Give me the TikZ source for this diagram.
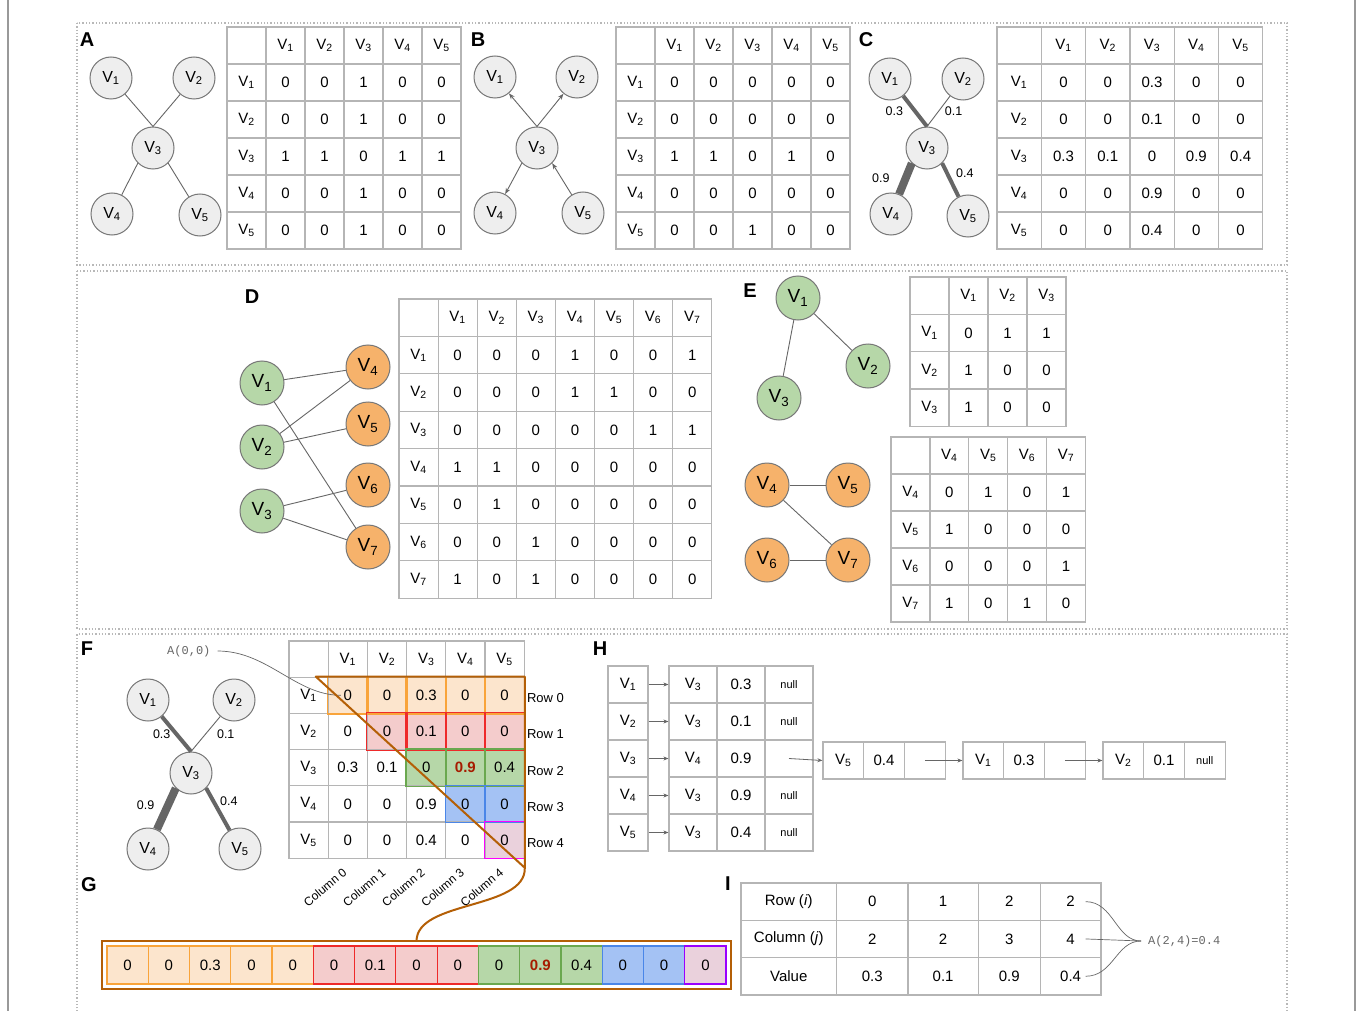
\documentclass[tikz,border=0pt]{standalone}
\usepackage{fontspec}
\setmainfont{Liberation Sans}
\setmonofont{Liberation Mono}
\usetikzlibrary{arrows.meta,calc,backgrounds}

\definecolor{ngray}{HTML}{EEEEEE}
\definecolor{nline}{HTML}{777777}
\definecolor{eline}{HTML}{666666}
\definecolor{tline}{HTML}{B5B5B5}
\definecolor{frm}{HTML}{B8B8B8}
\definecolor{ngreen}{HTML}{B6D7A8}
\definecolor{norange}{HTML}{F6B26B}
\definecolor{brwn}{HTML}{B45F06}
\definecolor{dred}{HTML}{A61C00}
\definecolor{orfill}{HTML}{FCE5CD}
\definecolor{ordraw}{HTML}{F9A43A}
\definecolor{rdfill}{HTML}{F4CCCC}
\definecolor{rddraw}{HTML}{EE2A2A}
\definecolor{gnfill}{HTML}{B6D7A8}
\definecolor{gndraw}{HTML}{6AA84F}
\definecolor{blfill}{HTML}{A4C2F4}
\definecolor{bldraw}{HTML}{4A86E8}
\definecolor{pufill}{HTML}{EAD1DC}
\definecolor{pudraw}{HTML}{FF00FF}
\definecolor{vidraw}{HTML}{9900FF}

\newcommand{\vs}[1]{V\textsubscript{#1}}
\newcommand{\nul}{{\fontsize{11}{11}\selectfont null}}
\newcommand{\hot}[1]{\textcolor{dred}{\bfseries #1}}

% table of cells: name, x0, y0, cell width, cell height, rows
\newcommand{\mtab}[6]{%
  \foreach \rowlist [count=\i from 0] in {#6} {
    \foreach \val [count=\j from 0] in \rowlist {
      \node[cell, minimum width=#4, minimum height=#5] (#1-\i-\j)
        at ({#2+(\j+0.5)*#4}, {#3+(\i+0.5)*#5}) {\val};
    }
  }
}

\begin{document}
\begin{tikzpicture}[x=1pt,y=1pt,yscale=-1,
  gnode/.style={circle,draw=nline,fill=ngray,line width=1,minimum size=42,inner sep=0,font=\fontsize{16}{16}\selectfont},
  grnode/.style={gnode,fill=ngreen,minimum size=44,font=\fontsize{19}{19}\selectfont},
  ornode/.style={grnode,fill=norange},
  link/.style={draw=eline,line width=0.9},
  arr/.style={link,-{Stealth[length=6,width=4.5]}},
  harr/.style={draw=eline,line width=0.8,-{Stealth[length=5,width=4]}},
  wt/.style={font=\fontsize{12.5}{12.5}\selectfont,inner sep=1},
  cell/.style={draw=tline,line width=1.2,inner sep=0,font=\fontsize{15}{15}\selectfont},
  acell/.style={draw,line width=1.2,inner sep=0,minimum width=41.27,minimum height=38,font=\fontsize{15}{15}\selectfont},
  plabel/.style={font=\fontsize{20}{20}\selectfont\bfseries,inner sep=0},
  frame/.style={draw=frm,dotted,line width=1.3},
  sideline/.style={draw=gray!80,line width=2},
  brline/.style={draw=brwn,line width=2},
  thin/.style={draw=eline,line width=0.7},
  mono/.style={font=\fontsize{12}{12}\ttfamily,text=eline,inner sep=1},
  rowlab/.style={font=\fontsize{13}{13}\selectfont,inner sep=0},
  hlor/.style={fill=orfill,draw=ordraw,line width=1.2},
  hlred/.style={fill=rdfill,draw=rddraw,line width=1.2},
  hlgr/.style={fill=gnfill,draw=gndraw,line width=1.2},
  hlbl/.style={fill=blfill,draw=bldraw,line width=1.2},
  hlpu/.style={fill=pufill,draw=pudraw,line width=1.2},
  gpu/.style={fill=pufill,draw=vidraw,line width=1.2}]

\begin{pgfonlayer}{background}
\fill[white] (0,0) rectangle (1357,1011);
\end{pgfonlayer}
\useasboundingbox (0,0) rectangle (1357,1011);

% frames
\draw[sideline] (8,0) -- (8,1011);
\draw[sideline] (1355,0) -- (1355,1011);
\draw[frame] (77,23) rectangle (1287,265);
\draw[frame] (77,271) rectangle (1287,629);
\draw[frame] (77,1015) -- (77,634) -- (1287,634) -- (1287,1015);

% A: undirected graph
\node[plabel] (lA) at (87,40) {A};
\node[gnode] (a1) at (111,78) {\vs1};
\node[gnode] (a2) at (194,78) {\vs2};
\node[gnode] (a3) at (153,148) {\vs3};
\node[gnode] (a4) at (112,214) {\vs4};
\node[gnode] (a5) at (200,215) {\vs5};
\draw[link] (a1) -- (a3.north);
\draw[link] (a2) -- (a3.north);
\draw[link] (a3.south west) -- (a4);
\draw[link] (a3.south east) -- (a5);
\mtab{ta}{227}{27}{39}{37}{{{},\vs1,\vs2,\vs3,\vs4,\vs5},{\vs1,0,0,1,0,0},{\vs2,0,0,1,0,0},{\vs3,1,1,0,1,1},{\vs4,0,0,1,0,0},{\vs5,0,0,1,0,0}}

% B: directed graph
\node[plabel] (lB) at (478,40) {B};
\node[gnode] (b1) at (495,77) {\vs1};
\node[gnode] (b2) at (577,77) {\vs2};
\node[gnode] (b3) at (537,148) {\vs3};
\node[gnode] (b4) at (495,213) {\vs4};
\node[gnode] (b5) at (583,213) {\vs5};
\draw[arr] (b3.north) -- (b1);
\draw[arr] (b3.north) -- (b2);
\draw[arr] (b3.south west) -- (b4);
\draw[arr] (b5) -- (b3.south east);
\mtab{tb}{616}{27}{39}{37}{{{},\vs1,\vs2,\vs3,\vs4,\vs5},{\vs1,0,0,0,0,0},{\vs2,0,0,0,0,0},{\vs3,1,1,0,1,0},{\vs4,0,0,0,0,0},{\vs5,0,0,1,0,0}}

% C: weighted graph
\node[plabel] (lC) at (866,40) {C};
\node[gnode] (c1) at (890,79) {\vs1};
\node[gnode] (c2) at (963,79) {\vs2};
\node[gnode] (c3) at (927,148) {\vs3};
\node[gnode] (c4) at (891,214) {\vs4};
\node[gnode] (c5) at (968,216) {\vs5};
\draw[link,line width=4] (c1) -- node[wt,left=9] {0.3} (c3.north);
\draw[link] (c2) -- node[wt,right=5] {0.1} (c3.north);
\draw[link,line width=8] (c3.south west) -- node[wt,left=11] {0.9} (c4);
\draw[link,line width=4] (c3.south east) -- node[wt,pos=0.3,right=6] {0.4} (c5);
\mtab{tc}{997}{27}{44.3}{37}{{{},\vs1,\vs2,\vs3,\vs4,\vs5},{\vs1,0,0,0.3,0,0},{\vs2,0,0,0.1,0,0},{\vs3,0.3,0.1,0,0.9,0.4},{\vs4,0,0,0.9,0,0},{\vs5,0,0,0.4,0,0}}

% D: bipartite graph
\node[plabel] (lD) at (252,297) {D};
\node[grnode] (d1) at (262,383) {\vs1};
\node[grnode] (d2) at (262,447) {\vs2};
\node[grnode] (d3) at (262,511) {\vs3};
\node[ornode] (d4) at (368,367) {\vs4};
\node[ornode] (d5) at (368,424) {\vs5};
\node[ornode] (d6) at (368,485) {\vs6};
\node[ornode] (d7) at (368,547) {\vs7};
\draw[link] (d1) -- (d4);
\draw[link] (d1) -- (d7);
\draw[link] (d2) -- (d4);
\draw[link] (d2) -- (d5);
\draw[link] (d3) -- (d6);
\draw[link] (d3) -- (d7);
\mtab{td}{399}{299}{39.1}{37.4}{{{},\vs1,\vs2,\vs3,\vs4,\vs5,\vs6,\vs7},{\vs1,0,0,0,1,0,0,1},{\vs2,0,0,0,1,1,0,0},{\vs3,0,0,0,0,0,1,1},{\vs4,1,1,0,0,0,0,0},{\vs5,0,1,0,0,0,0,0},{\vs6,0,0,1,0,0,0,0},{\vs7,1,0,1,0,0,0,0}}

% E: two one-mode graphs
\node[plabel] (lE) at (750,291) {E};
\node[grnode] (e1) at (798,298) {\vs1};
\node[grnode] (e2) at (868,366) {\vs2};
\node[grnode] (e3) at (779,398) {\vs3};
\draw[link] (e1) -- (e2);
\draw[link] (e1) -- (e3);
\node[ornode] (e4) at (767,485) {\vs4};
\node[ornode] (e5) at (848,485) {\vs5};
\node[ornode] (e6) at (767,560) {\vs6};
\node[ornode] (e7) at (848,560) {\vs7};
\draw[link] (e4) -- (e5);
\draw[link] (e4) -- (e7);
\draw[link] (e6) -- (e7);
\mtab{tea}{910}{277}{39}{37.3}{{{},\vs1,\vs2,\vs3},{\vs1,0,1,1},{\vs2,1,0,0},{\vs3,1,0,0}}
\mtab{teb}{891}{437}{38.9}{37}{{{},\vs4,\vs5,\vs6,\vs7},{\vs4,0,1,0,1},{\vs5,1,0,0,0},{\vs6,0,0,0,1},{\vs7,1,0,1,0}}

% F: weighted graph and its upper triangle
\node[plabel] (lF) at (87,649) {F};
\node[gnode] (f1) at (148,700) {\vs1};
\node[gnode] (f2) at (234,700) {\vs2};
\node[gnode] (f3) at (191,773) {\vs3};
\node[gnode] (f4) at (148,849) {\vs4};
\node[gnode] (f5) at (240,849) {\vs5};
\draw[link,line width=4] (f1) -- node[wt,left=3] {0.3} (f3.north);
\draw[link] (f2) -- node[wt,right=10] {0.1} (f3.north);
\draw[link,line width=8] (f3.south west) -- node[wt,pos=0.4,left=9] {0.9} (f4);
\draw[link,line width=4] (f3.south east) -- node[wt,pos=0.3,right=4] {0.4} (f5);
\mtab{tfm}{289}{641}{39.2}{36.2}{{{},\vs1,\vs2,\vs3,\vs4,\vs5},{\vs1,0,0,0.3,0,0},{\vs2,0,0,0.1,0,0},{\vs3,0.3,0.1,0,\hot{0.9},0.4},{\vs4,0,0,0.9,0,0},{\vs5,0,0,0.4,0,0}}
\foreach \r/\hl in {1/hlor,2/hlred,3/hlgr,4/hlbl,5/hlpu} {
  \foreach \c in {\r,...,5} {
    \begin{pgfonlayer}{background}
      \fill[\hl] (tfm-\r-\c.north west) rectangle (tfm-\r-\c.south east);
    \end{pgfonlayer}
    \draw[\hl,fill=none] (tfm-\r-\c.north west) rectangle (tfm-\r-\c.south east);
  }
}
\foreach \r/\n in {1/0,2/1,3/2,4/3,5/4}
  \node[rowlab,anchor=west] (row\n) at ($(tfm-\r-5.east)+(2,3)$) {Row \n};
\foreach \c/\n in {1/0,2/1,3/2,4/3,5/4}
  \node[rowlab,font=\fontsize{12}{12}\selectfont,rotate=40,anchor=east] (col\n) at ($(tfm-5-\c.south)+(-3,12)$) {Column \n};
\node[mono,anchor=west] (a00) at (166,651) {A(0,0)};
\draw[thin] ($(a00.east)+(6,0)$) .. controls +(50,0) and +(-45,0) .. ($(tfm-1-1.center)+(-7,0)$);
\coordinate (trA) at ($(tfm-1-0.north east)+(-13,0)$);
\coordinate (trB) at (tfm-1-5.north east);
\coordinate (trC) at ($(tfm-5-5.south east)+(0,9)$);
\draw[brline,line join=round] (trA) -- (trB) -- (trC) -- cycle;

% G: row-major array
\node[plabel] (lG) at (89,885) {G};
\foreach \v/\s [count=\k] in {0/hlor,0/hlor,0.3/hlor,0/hlor,0/hlor,0/hlred,0.1/hlred,0/hlred,0/hlred,0/hlgr,\hot{0.9}/hlgr,0.4/hlgr,0/hlbl,0/hlbl,0/gpu}
  \node[acell,\s] (g-\k) at ({107+(\k-0.5)*41.27},965) {\v};
\draw[brline] ($(g-1.north west)+(-4,-4)$) rectangle ($(g-15.south east)+(4,4)$);
\draw[brline] (trC) .. controls (526,910) and (416,900) .. ($(g-8.north)+(0,-4)$);

% H: adjacency list
\node[plabel] (lH) at (600,649) {H};
\mtab{thl}{608}{666}{40}{37}{{\vs1},{\vs2},{\vs3},{\vs4},{\vs5}}
\mtab{thr}{669}{666}{48}{37}{{\vs3,0.3,\nul},{\vs3,0.1,\nul},{\vs4,0.9,{}},{\vs3,0.9,\nul},{\vs3,0.4,\nul}}
\mtab{hca}{823}{742}{40.7}{37}{{\vs5,0.4,{}}}
\mtab{hcb}{963}{742}{40.7}{37}{{\vs1,0.3,{}}}
\mtab{hcc}{1103}{742}{40.7}{37}{{\vs2,0.1,\nul}}
\foreach \i in {0,...,4}
  \draw[harr] (thl-\i-0.east) -- (thr-\i-0.west);
\draw[harr] (thr-2-2.center) -- (hca-0-0.west);
\draw[harr] (hca-0-2.center) -- (hcb-0-0.west);
\draw[harr] (hcb-0-2.center) -- (hcc-0-0.west);

% I: coordinate list
\node[plabel] (lI) at (728,884) {I};
\mtab{tio}{741}{883}{95.5}{37.3}{{Row (\textit{i})},{Column (\textit{j})},{Value}}
\mtab{tia}{836.5}{883}{71.5}{37.3}{{0},{2},{0.3}}
\mtab{tib}{908}{883}{70.3}{37.3}{{1},{2},{0.1}}
\mtab{tic}{978.3}{883}{61.9}{37.3}{{2},{3},{0.9}}
\mtab{tid}{1040.2}{883}{60.8}{37.3}{{2},{4},{0.4}}
\node[mono,anchor=west] (a24) at (1147,941) {A(2,4)=0.4};
\draw[thin] ($(tid-0-0.center)+(15,0)$) .. controls +(28,0) and +(-25,0) .. ($(a24.west)+(-6,0)$);
\draw[thin] ($(tid-1-0.center)+(15,0)$) -- ($(a24.west)+(-6,0)$);
\draw[thin] ($(tid-2-0.center)+(15,0)$) .. controls +(28,0) and +(-25,0) .. ($(a24.west)+(-6,0)$);
\end{tikzpicture}
\end{document}
